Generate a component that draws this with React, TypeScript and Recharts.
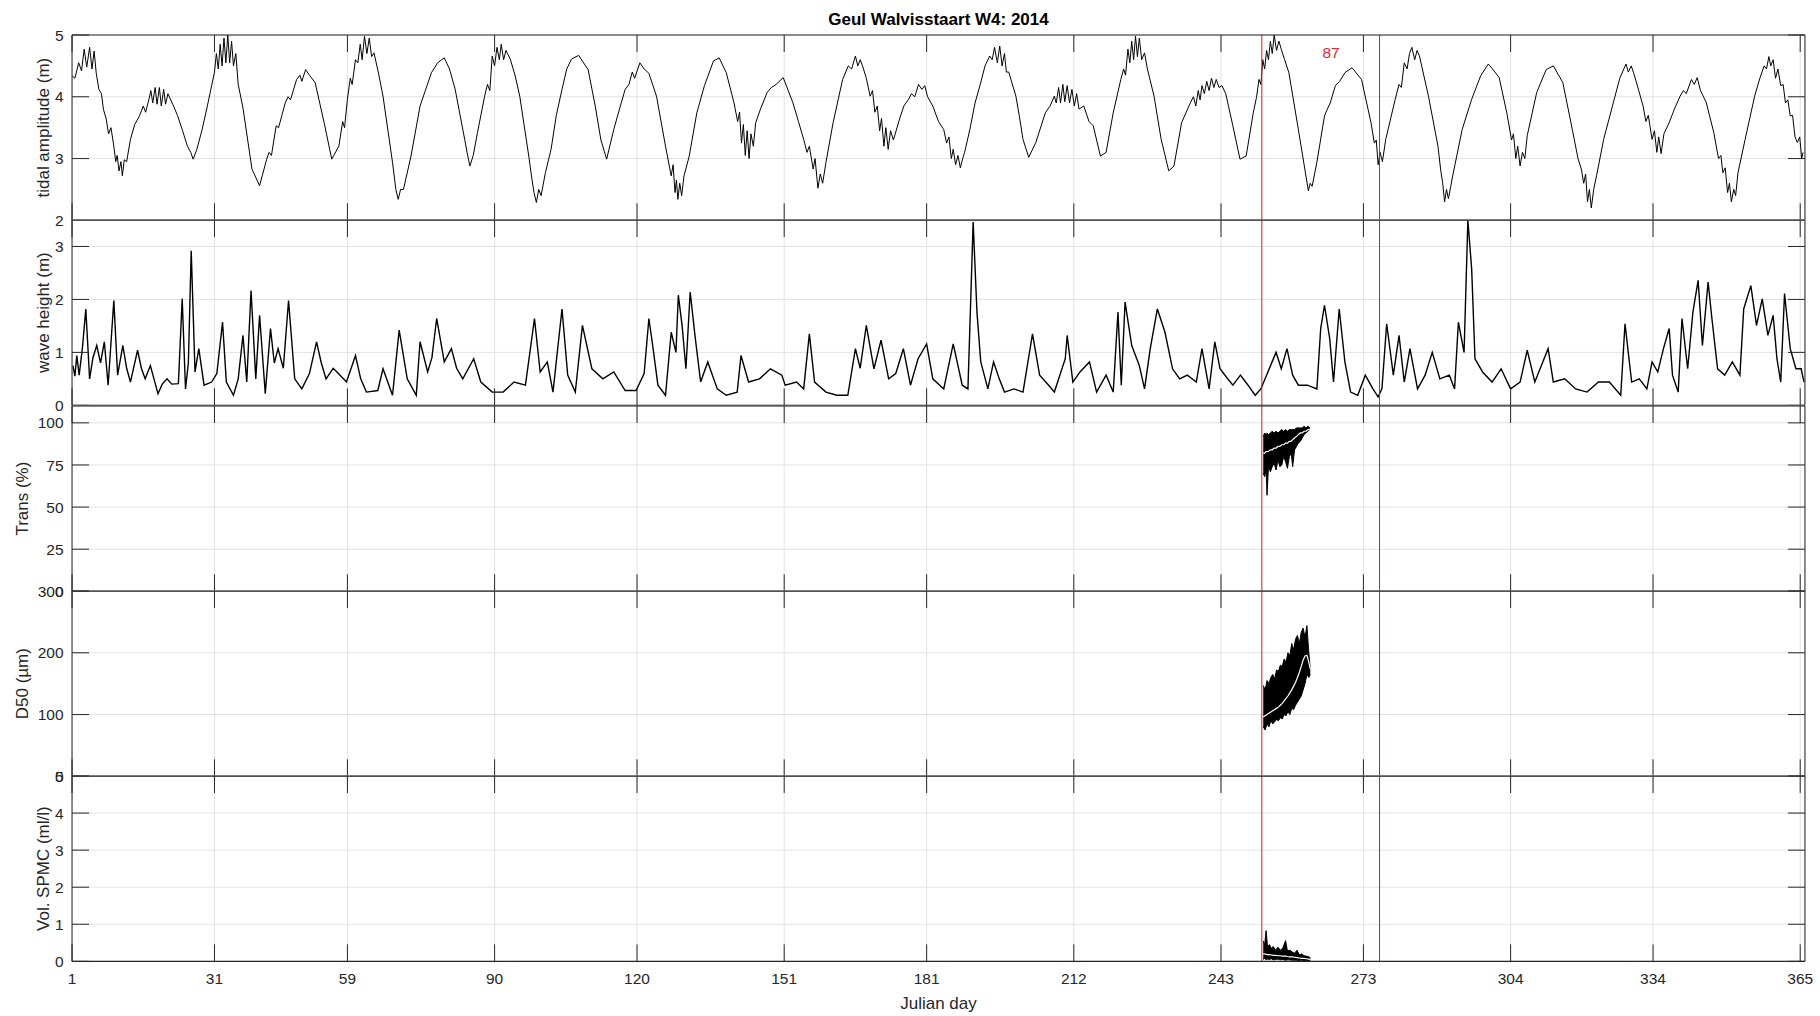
import {
  Area,
  CartesianGrid,
  ComposedChart,
  Line,
  ReferenceDot,
  ReferenceLine,
  XAxis,
  YAxis,
} from "recharts";

// Julian day ticks (month starts)
const dayTicks = [1, 31, 59, 90, 120, 151, 181, 212, 243, 273, 304, 334, 365];

// event window (red lines) and its label
const eventStart = 251.6;
const eventEnd = 276.4;
const eventLabel = "87";

// tidal amplitude (m), [day, value]
const tide: [number, number][] = [
  [1, 4.34], [1.6, 4.3], [2.4, 4.55], [3, 4.42], [3.55, 4.77], [4.1, 4.48], [4.7, 4.8], [5.2, 4.45],
  [5.65, 4.74], [6.1, 4.38], [6.65, 4.12], [7.2, 4.05], [7.6, 3.8], [8.2, 3.64], [8.7, 3.4], [9.2, 3.5],
  [9.8, 3.2], [10.2, 2.95], [10.5, 3.05], [10.9, 2.8], [11.3, 2.95], [11.6, 2.72], [12, 2.98], [12.5, 2.95],
  [13.3, 3.31], [14.2, 3.55], [15.2, 3.69], [16, 3.85], [16.5, 3.75], [17.2, 3.96], [17.6, 4.1], [18, 3.9],
  [18.5, 4.15], [18.9, 3.88], [19.4, 4.15], [19.8, 3.85], [20.3, 4.12], [20.7, 3.88], [21.2, 4.05],
  [22.2, 3.88], [23.2, 3.7], [24.2, 3.47], [25.3, 3.2], [26, 3.1], [26.5, 2.99], [27.3, 3.15], [28.4, 3.47],
  [29.5, 3.85], [30.4, 4.18], [31, 4.4], [31.4, 4.7], [31.8, 4.45], [32.2, 4.85], [32.6, 4.5], [33, 4.95],
  [33.4, 4.55], [33.8, 5.0], [34.2, 4.55], [34.6, 4.9], [35, 4.5], [35.5, 4.7], [36, 4.2], [37, 3.82],
  [38.9, 2.83], [40.5, 2.56], [42, 2.99], [42.5, 3.1], [43, 3.05], [44, 3.53], [44.5, 3.5], [45.9, 3.9],
  [46.5, 4.0], [47, 3.95], [48.3, 4.28], [49, 4.35], [49.4, 4.25], [50.2, 4.44], [51, 4.35], [52.2, 4.23],
  [54.1, 3.58], [55.7, 2.99], [57.2, 3.2], [58, 3.6], [58.4, 3.5], [59, 3.96], [59.6, 4.3], [60, 4.2],
  [60.7, 4.6], [61.2, 4.55], [61.7, 4.85], [62.1, 4.6], [62.6, 4.98], [63.1, 4.7], [63.6, 4.95], [64.1, 4.65],
  [64.6, 4.71], [65.5, 4.4], [66.5, 4.01], [68.5, 2.94], [69.2, 2.5], [69.7, 2.34], [70.2, 2.5], [70.8, 2.5],
  [72.4, 3.04], [74.3, 3.85], [76.7, 4.39], [78, 4.55], [79.4, 4.63], [80.5, 4.45], [81.7, 4.12], [83.7, 3.31],
  [84.2, 3.1], [84.8, 2.88], [85.5, 3.05], [86.4, 3.42], [87.9, 4.01], [88.5, 4.2], [89, 4.1], [89.5, 4.66],
  [90, 4.5], [90.5, 4.8], [91, 4.6], [91.4, 4.85], [91.9, 4.6], [92.4, 4.75], [93.3, 4.61], [94.3, 4.35],
  [95.3, 4.01], [96.2, 3.55], [97.2, 3.04], [97.8, 2.7], [98.3, 2.45], [98.8, 2.29], [99.3, 2.5], [99.8, 2.4],
  [100.7, 2.77], [101.9, 3.15], [103, 3.7], [104.2, 4.12], [105.2, 4.45], [106.2, 4.61], [107.7, 4.67],
  [109.7, 4.44], [111.2, 3.85], [112.4, 3.3], [113.6, 2.99], [115.1, 3.47], [116.3, 3.8], [117.5, 4.12],
  [118.3, 4.2], [119, 4.4], [119.5, 4.3], [120.6, 4.55], [121.5, 4.45], [122.5, 4.38], [124.1, 4.01],
  [126, 3.2], [127.2, 2.72], [127.6, 2.9], [128, 2.45], [128.3, 2.65], [128.6, 2.34], [129, 2.6], [129.4, 2.4],
  [129.9, 2.72], [131, 3.04], [132.6, 3.74], [134.2, 4.18], [136.1, 4.58], [137.3, 4.63], [138.8, 4.39],
  [140.4, 3.91], [141.2, 3.6], [141.6, 3.75], [142, 3.25], [142.4, 3.55], [142.8, 3.05], [143.2, 3.45],
  [143.6, 3.0], [144, 3.4], [144.5, 3.2], [145, 3.58], [146, 3.8], [147.4, 4.07], [148.3, 4.15], [149.3, 4.2],
  [150.8, 4.31], [152.8, 3.91], [154, 3.6], [155.1, 3.31], [155.8, 3.1], [156.3, 3.2], [157.1, 2.83],
  [157.5, 3.0], [158.1, 2.52], [158.6, 2.75], [159.1, 2.6], [159.8, 2.94], [161.3, 3.58], [163.3, 4.28],
  [164.5, 4.5], [165.2, 4.45], [166, 4.66], [166.5, 4.5], [167, 4.6], [167.5, 4.5], [168.3, 4.3], [169.1, 4.01],
  [169.6, 4.1], [170.1, 3.75], [170.6, 3.85], [171.1, 3.45], [171.5, 3.65], [172, 3.2], [172.4, 3.5],
  [172.9, 3.15], [173.4, 3.45], [174, 3.3], [175.3, 3.64], [176.2, 3.85], [177.2, 3.96], [177.8, 4.05],
  [178.5, 4.0], [179.3, 4.2], [180, 4.12], [180.6, 4.18], [181.2, 4.0], [182.3, 3.85], [183.5, 3.6],
  [184.6, 3.47], [185.2, 3.25], [185.7, 3.35], [186.2, 3.0], [186.6, 3.15], [187.1, 2.9], [187.6, 3.05],
  [188.1, 2.85], [188.6, 3.0], [189, 3.1], [190.1, 3.47], [191.2, 3.9], [192.4, 4.23], [193.3, 4.5],
  [194.3, 4.66], [194.8, 4.6], [195.3, 4.8], [195.9, 4.55], [196.4, 4.82], [196.9, 4.5], [197.4, 4.7],
  [197.8, 4.4], [198.3, 4.4], [199.8, 4.01], [200.5, 3.7], [201.3, 3.31], [202.5, 3.02], [204, 3.26],
  [206, 3.74], [207, 3.85], [207.9, 4.01], [208.3, 3.9], [208.8, 4.15], [209.2, 3.9], [209.7, 4.2],
  [210.1, 3.92], [210.6, 4.18], [211.1, 3.9], [211.6, 4.12], [212.1, 3.85], [212.6, 4.05], [213.1, 3.8],
  [214.1, 3.85], [215.2, 3.6], [216.1, 3.53], [217.6, 3.04], [218.8, 3.1], [220.3, 3.74], [221.9, 4.28],
  [222.5, 4.45], [222.9, 4.35], [223.4, 4.77], [223.8, 4.55], [224.2, 4.9], [224.6, 4.6], [225, 4.98],
  [225.4, 4.65], [225.8, 4.95], [226.3, 4.6], [226.9, 4.71], [227.5, 4.45], [228.9, 4.01], [230.4, 3.31],
  [232, 2.8], [233.1, 2.88], [234.7, 3.58], [236.6, 3.91], [237.2, 4.0], [237.7, 3.85], [238.2, 4.1],
  [238.6, 3.95], [239, 4.18], [239.5, 4.05], [240, 4.25], [240.5, 4.1], [241, 4.3], [241.5, 4.15],
  [242, 4.28], [242.6, 4.15], [243.2, 4.18], [244, 4.05], [245.5, 3.53], [247, 2.99], [248.3, 3.04],
  [249.8, 3.74], [250.5, 4.0], [251, 4.28], [251.4, 4.2], [251.8, 4.6], [252.2, 4.45], [252.6, 4.75],
  [253, 4.6], [253.4, 4.9], [253.8, 4.7], [254.2, 5.0], [254.7, 4.75], [255.2, 4.9], [255.7, 4.77],
  [256.4, 4.6], [257.3, 4.39], [259.3, 3.47], [261.4, 2.48], [261.8, 2.6], [262.2, 2.55], [263.2, 2.94],
  [264.8, 3.69], [265.4, 3.8], [266, 3.9], [267.1, 4.18], [268, 4.25], [269.1, 4.39], [270.6, 4.47],
  [272.6, 4.28], [274.6, 3.58], [275.3, 3.25], [275.7, 3.3], [276.1, 2.9], [276.5, 3.1], [277, 2.95],
  [277.7, 3.31], [279.7, 3.96], [280.5, 4.2], [281, 4.15], [281.6, 4.55], [282.2, 4.45], [282.7, 4.7],
  [283.2, 4.8], [283.8, 4.6], [284.3, 4.75], [284.8, 4.66], [286.7, 4.01], [288.7, 3.2], [289.3, 2.8],
  [289.7, 2.6], [290.1, 2.3], [290.5, 2.5], [290.9, 2.35], [291.4, 2.55], [291.8, 2.72], [293.8, 3.47],
  [295.8, 3.96], [297.7, 4.34], [299.3, 4.53], [300.2, 4.45], [301.6, 4.31], [303.2, 3.74], [304.2, 3.3],
  [304.6, 3.4], [305.1, 3.0], [305.5, 3.2], [306, 2.88], [306.5, 3.1], [307, 3.0], [307.5, 3.37],
  [309.5, 4.07], [311.5, 4.44], [313, 4.5], [315, 4.23], [317, 3.47], [318.2, 3.0], [318.9, 2.83],
  [319.4, 2.6], [319.8, 2.75], [320.2, 2.3], [320.6, 2.5], [321, 2.2], [321.5, 2.5], [322.1, 2.72],
  [323.6, 3.31], [326, 4.01], [327, 4.3], [328.3, 4.53], [328.8, 4.4], [329.4, 4.5], [329.9, 4.39],
  [331, 4.1], [331.9, 3.85], [332.5, 3.6], [333, 3.7], [333.8, 3.31], [334.3, 3.45], [334.8, 3.1],
  [335.2, 3.35], [335.7, 3.08], [336.3, 3.4], [337.4, 3.58], [338.5, 3.8], [339.7, 4.01], [340.4, 4.1],
  [341, 4.05], [342.1, 4.28], [342.7, 4.2], [343.3, 4.31], [344, 4.1], [345.2, 3.91], [346.8, 3.42],
  [347.8, 3.0], [348.3, 3.05], [348.7, 2.77], [349.2, 2.85], [349.7, 2.45], [350.1, 2.6], [350.5, 2.3],
  [351, 2.5], [351.4, 2.4], [351.9, 2.77], [353.4, 3.31], [355.4, 4.01], [356.5, 4.3], [357.4, 4.5],
  [357.9, 4.45], [358.4, 4.65], [358.8, 4.5], [359.3, 4.6], [359.8, 4.3], [360.3, 4.45], [360.9, 4.18],
  [361.4, 4.2], [361.9, 3.9], [362.4, 3.95], [362.9, 3.69], [363.4, 3.7], [363.9, 3.35], [364.4, 3.26],
  [364.9, 3.35], [365.3, 3.0], [365.6, 3.1],
];

// wave height (m), [day, value]
const wave: [number, number][] = [
  [1.2, 0.75], [1.6, 0.55], [2, 0.94], [2.5, 0.57], [3.2, 1.1], [3.9, 1.82], [4.7, 0.5], [5.4, 0.9],
  [6.2, 1.13], [7, 0.8], [7.8, 1.2], [8.6, 0.38], [9.8, 1.98], [10.6, 0.57], [11.7, 1.13], [12.5, 0.7],
  [13.3, 0.44], [14.8, 1.04], [15.6, 0.7], [16.4, 0.5], [17.5, 0.75], [19.1, 0.22], [20, 0.4], [21, 0.5],
  [22, 0.4], [23.4, 0.41], [24.2, 2.01], [24.9, 0.31], [25.5, 0.8], [26.1, 2.92], [26.9, 0.63],
  [27.7, 1.07], [28.8, 0.38], [30.4, 0.44], [31.5, 0.6], [32.7, 1.57], [33.5, 0.44], [35, 0.19],
  [36, 0.5], [37, 1.32], [37.8, 0.44], [38.7, 2.17], [39.7, 0.5], [40.5, 1.7], [41.7, 0.22], [42.8, 1.45],
  [43.6, 0.8], [44.4, 1.07], [45.5, 0.7], [46.6, 1.98], [47.9, 0.5], [49.4, 0.31], [51, 0.6], [52.5, 1.2],
  [53.5, 0.8], [54.5, 0.5], [56, 0.7], [56.8, 0.63], [58.8, 0.44], [60.7, 0.94], [61.8, 0.5], [63, 0.25],
  [65.4, 0.28], [66.5, 0.69], [68.5, 0.19], [69.9, 1.42], [71.6, 0.5], [73.5, 0.19], [74.3, 1.2],
  [75.9, 0.63], [76.8, 0.9], [77.8, 1.64], [79.4, 0.82], [80.9, 1.07], [82, 0.7], [83.3, 0.5], [85.6, 0.88],
  [87.1, 0.44], [89.5, 0.25], [91.8, 0.25], [94.1, 0.44], [96.5, 0.38], [98.4, 1.64], [99.6, 0.63],
  [101.1, 0.82], [102.3, 0.25], [104.2, 1.82], [105.4, 0.57], [107, 0.25], [108.5, 1.51], [110.5, 0.69],
  [112.8, 0.5], [115.1, 0.63], [117.5, 0.28], [119.8, 0.28], [121.5, 0.6], [122.5, 1.64], [123.3, 1.13],
  [124.4, 0.38], [126, 0.19], [127.2, 1.38], [128.2, 1.0], [128.7, 2.08], [129.5, 1.5], [130.3, 0.69],
  [131.2, 2.14], [132.2, 1.32], [133.4, 0.44], [134.9, 0.82], [136.9, 0.31], [138.8, 0.19], [141.1, 0.25],
  [141.9, 0.94], [143.5, 0.44], [145.8, 0.5], [148.1, 0.69], [150.5, 0.57], [151.2, 0.38], [153.6, 0.44],
  [155.1, 0.31], [156.3, 1.35], [157.4, 0.44], [159.8, 0.25], [162.1, 0.19], [164.4, 0.19], [166, 1.07],
  [167, 0.7], [168.3, 1.51], [169.9, 0.69], [171.4, 1.23], [173, 0.5], [174.5, 0.6], [176.1, 1.07],
  [177.6, 0.38], [179.2, 0.88], [181, 1.16], [182.3, 0.5], [184.6, 0.31], [186.6, 1.16], [188.5, 0.38],
  [189.7, 0.31], [190.8, 3.46], [191.6, 1.76], [192.4, 0.82], [193.9, 0.31], [195.1, 0.82], [196.3, 0.5],
  [197.4, 0.25], [199.4, 0.31], [201.3, 0.25], [203.3, 1.35], [204.8, 0.57], [206.7, 0.38], [207.9, 0.25],
  [210.2, 0.88], [210.6, 1.32], [211.8, 0.44], [213.3, 0.63], [215.3, 0.82], [216.8, 0.25], [218.8, 0.57],
  [220.3, 0.25], [221.3, 1.76], [222, 0.38], [222.8, 1.95], [224.2, 1.13], [225.8, 0.75], [226.9, 0.31],
  [228.1, 1.07], [229.6, 1.82], [231.2, 1.38], [232.8, 0.69], [234.3, 0.5], [235.9, 0.57], [237.8, 0.44],
  [239, 1.07], [240.5, 0.31], [241.7, 1.2], [242.8, 0.69], [244, 0.55], [245.5, 0.38], [247.1, 0.57],
  [248.7, 0.38], [250.2, 0.19], [251.4, 0.31], [252.6, 0.57], [254.6, 1.0], [255.7, 0.69], [256.9, 1.07],
  [258.1, 0.57], [259.3, 0.38], [261.2, 0.38], [263.2, 0.31], [264, 1.45], [264.8, 1.89], [265.9, 1.26],
  [266.7, 0.44], [267.9, 1.82], [269.1, 0.82], [270.3, 0.25], [271.8, 0.19], [273.4, 0.57], [275, 0.31],
  [276.1, 0.16], [276.9, 0.31], [277.9, 1.54], [279.3, 0.57], [280.5, 1.32], [281.6, 0.44], [282.8, 1.07],
  [284.4, 0.31], [286, 0.57], [287.5, 1.0], [289.1, 0.5], [291.1, 0.57], [292.2, 0.31], [293, 1.57],
  [294.2, 1.0], [295, 3.49], [295.8, 2.58], [296.5, 0.88], [298.1, 0.63], [300.1, 0.44], [302, 0.69],
  [304, 0.31], [306, 0.44], [307.5, 1.04], [309.1, 0.44], [311.9, 1.07], [313, 0.44], [315.4, 0.5],
  [317.7, 0.31], [320.1, 0.25], [322.5, 0.44], [324.8, 0.44], [327.2, 0.19], [328.1, 1.54], [329.5, 0.44],
  [331.1, 0.5], [332.7, 0.31], [333.8, 0.82], [335, 0.63], [336.2, 1.07], [337.4, 1.45], [338.1, 0.57],
  [339.3, 0.25], [340.1, 1.64], [341.3, 0.69], [342.4, 1.76], [343.5, 2.36], [344.4, 1.13], [345.6, 2.33],
  [346.4, 1.64], [347.6, 0.69], [349.1, 0.57], [350.7, 0.82], [352.3, 0.57], [353.1, 1.82], [354.6, 2.26],
  [355.8, 1.51], [357, 2.01], [358.2, 1.32], [359.3, 1.7], [360.1, 0.88], [360.9, 0.44], [361.7, 2.11],
  [362.9, 1.07], [364.1, 0.69], [365.2, 0.69], [365.8, 0.44],
];

// transmission (%) during deployment: spread and smoothed mean
const transDay = [251.9, 252.2, 252.5, 252.7, 253.0, 253.4, 253.8, 254.2, 254.6, 255.0, 255.4, 255.8, 256.2, 256.6, 257.0, 257.4, 257.8, 258.1, 258.5, 258.9, 259.3, 259.7, 260.1, 260.5, 260.9, 261.3, 261.7];
const transHi = [92, 94, 93, 94, 93, 94, 95, 94, 95, 94, 95, 96, 95, 96, 95, 96, 96, 96, 96, 97, 97, 97, 97, 98, 97, 98, 97];
const transLo = [70, 68, 72, 57, 74, 71, 74, 76, 72, 78, 74, 75, 80, 77, 73, 80, 82, 74, 84, 86, 88, 89, 91, 93, 94, 95, 96];
const transMean = [82, 82, 83, 83, 83, 84, 84, 85, 85, 86, 86, 87, 87, 88, 88, 89, 89, 90, 91, 92, 93, 94, 94, 95, 95, 96, 96];

// D50 (um)
const d50Day = [251.9, 252.3, 252.7, 253.1, 253.5, 253.9, 254.3, 254.7, 255.1, 255.5, 255.9, 256.3, 256.7, 257.1, 257.5, 257.9, 258.3, 258.7, 259.1, 259.5, 259.9, 260.3, 260.7, 261.1, 261.5, 261.8];
const d50Hi = [147, 140, 155, 150, 160, 165, 158, 172, 170, 180, 178, 190, 185, 200, 195, 215, 205, 222, 228, 215, 233, 240, 225, 244, 200, 175];
const d50Lo = [80, 75, 85, 80, 90, 85, 88, 92, 90, 95, 93, 100, 98, 105, 100, 110, 108, 115, 120, 125, 130, 140, 150, 165, 160, 165];
const d50Mean = [96, 98, 100, 102, 104, 106, 108, 110, 112, 115, 118, 122, 126, 130, 135, 140, 146, 152, 160, 168, 178, 188, 195, 196, 185, 174];

// volume SPMC (ml/l)
const spmcDay = [251.9, 252.2, 252.5, 252.8, 253.2, 253.6, 254.0, 254.5, 255.0, 255.5, 256.0, 256.6, 257.0, 257.5, 258.0, 258.5, 259.0, 259.5, 260.0, 260.5, 261.0, 261.5, 261.8];
const spmcHi = [0.55, 0.45, 0.83, 0.4, 0.45, 0.35, 0.4, 0.3, 0.38, 0.3, 0.35, 0.56, 0.28, 0.3, 0.25, 0.22, 0.3, 0.18, 0.2, 0.15, 0.14, 0.12, 0.1];
const spmcLo = [0.05, 0.08, 0.04, 0.06, 0.05, 0.07, 0.04, 0.05, 0.06, 0.04, 0.05, 0.03, 0.04, 0.04, 0.03, 0.03, 0.03, 0.02, 0.03, 0.02, 0.02, 0.02, 0.02];
const spmcMean = [0.2, 0.2, 0.19, 0.18, 0.18, 0.17, 0.16, 0.16, 0.15, 0.15, 0.14, 0.14, 0.13, 0.12, 0.12, 0.11, 0.1, 0.09, 0.08, 0.08, 0.07, 0.06, 0.05];

const AX = "#262626";
const GRID = "#e2e2e2";
const RED_LINE = "#c42020";
const FONT = "'Liberation Sans', Arial, Helvetica, sans-serif";

const W = 1820;
const PANEL_TOP = 35;
const PANEL_H = 185.34;
const TICK_LEN = 17;

const pairs = (p: [number, number][]) => p.map(([d, v]) => ({ d, v }));
const band = (days: number[], lo: number[], hi: number[], mean: number[]) =>
  days.map((d, i) => ({ d, band: [lo[i], hi[i]], v: mean[i] }));

function XTick(props: any) {
  const { x, y, payload, side, labels } = props;
  const dir = side === "top" ? 1 : -1;
  return (
    <g>
      <line x1={x} x2={x} y1={y} y2={y + dir * TICK_LEN} stroke={AX} strokeWidth={1} />
      {labels && (
        <text x={x} y={y + 23} textAnchor="middle" fill={AX} fontSize={15.5}>
          {payload.value}
        </text>
      )}
    </g>
  );
}

function YTick(props: any) {
  const { x, y, payload, side } = props;
  const dir = side === "left" ? 1 : -1;
  return (
    <g>
      <line x1={x} x2={x + dir * TICK_LEN} y1={y} y2={y} stroke={AX} strokeWidth={1} />
      {side === "left" && (
        <text x={x - 8.5} y={y} dy="0.36em" textAnchor="end" fill={AX} fontSize={15.5}>
          {payload.value}
        </text>
      )}
    </g>
  );
}

function YTitle(props: any) {
  const { value, cx, cy } = props;
  return (
    <text
      x={cx}
      y={cy}
      transform={`rotate(-90 ${cx} ${cy})`}
      textAnchor="middle"
      dy="0.35em"
      fill={AX}
      fontSize={17}
    >
      {value}
    </text>
  );
}

interface PanelProps {
  idx: number;
  yDomain: [number, number];
  yTicks: number[];
  yLabel: string;
  labelX: number;
  last?: boolean;
  children: React.ReactNode;
}

function Panel({ idx, yDomain, yTicks, yLabel, labelX, last, children }: PanelProps) {
  const mTop = 19;
  const mBottom = last ? 49 : 19;
  const top = PANEL_TOP + idx * PANEL_H - mTop - 1;
  return (
    <div style={{ position: "absolute", left: 0, top }}>
      <ComposedChart
        width={W}
        height={PANEL_H + mTop + mBottom + 2}
        margin={{ top: mTop, right: 0, bottom: mBottom, left: 0 }}
      >
        <CartesianGrid stroke={GRID} strokeWidth={1} />
        <XAxis
          dataKey="d"
          type="number"
          domain={[1, 366]}
          ticks={dayTicks}
          interval={0}
          height={1}
          tickSize={0}
          tickMargin={0}
          tickLine={false}
          axisLine={{ stroke: AX, strokeWidth: 1.2 }}
          tick={(p: any) => <XTick {...p} side="bottom" labels={last} />}
          allowDataOverflow
        />
        <XAxis
          xAxisId="top"
          orientation="top"
          dataKey="d"
          type="number"
          domain={[1, 366]}
          ticks={dayTicks}
          interval={0}
          height={1}
          tickSize={0}
          tickMargin={0}
          tickLine={false}
          axisLine={{ stroke: AX, strokeWidth: 1.2 }}
          tick={(p: any) => <XTick {...p} side="top" labels={false} />}
          allowDataOverflow
        />
        <YAxis
          type="number"
          domain={yDomain}
          ticks={yTicks}
          interval={0}
          width={72}
          tickSize={0}
          tickMargin={0}
          tickLine={false}
          axisLine={{ stroke: AX, strokeWidth: 1 }}
          tick={(p: any) => <YTick {...p} side="left" />}
          label={<YTitle value={yLabel} cx={labelX} cy={mTop + 1 + PANEL_H / 2} />}
          allowDataOverflow
        />
        <YAxis
          yAxisId="r"
          orientation="right"
          type="number"
          domain={yDomain}
          ticks={yTicks}
          interval={0}
          width={15}
          tickSize={0}
          tickMargin={0}
          tickLine={false}
          axisLine={{ stroke: AX, strokeWidth: 1 }}
          tick={(p: any) => <YTick {...p} side="right" />}
          allowDataOverflow
        />
        {children}
        <ReferenceLine x={eventStart} stroke={RED_LINE} strokeWidth={1} />
        <ReferenceLine x={eventEnd} stroke={RED_LINE} strokeWidth={1} />
      </ComposedChart>
    </div>
  );
}

export default function App() {
  const tideData = pairs(tide);
  const waveData = pairs(wave);
  const transData = band(transDay, transLo, transHi, transMean);
  const d50Data = band(d50Day, d50Lo, d50Hi, d50Mean);
  const spmcData = band(spmcDay, spmcLo, spmcHi, spmcMean);

  return (
    <div
      style={{
        position: "absolute",
        left: 0,
        top: 0,
        width: W,
        height: 1016,
        background: "#fff",
        fontFamily: FONT,
        color: AX,
      }}
    >
      <div
        style={{
          position: "absolute",
          left: 72,
          width: 1733,
          top: 10,
          lineHeight: "20px",
          textAlign: "center",
          fontWeight: "bold",
          fontSize: 17,
          color: "#000",
        }}
      >
        Geul Walvisstaart W4: 2014
      </div>

      <Panel idx={0} yDomain={[2, 5]} yTicks={[2, 3, 4, 5]} yLabel="tidal amplitude (m)" labelX={43}>
        <Line data={tideData} dataKey="v" stroke="#000" strokeWidth={1} dot={false} isAnimationActive={false} />
        <ReferenceDot
          x={266.2}
          y={4.71}
          r={0}
          fill="none"
          stroke="none"
          label={{ value: eventLabel, position: "center", fill: "#e3242b", fontSize: 15.5 }}
        />
      </Panel>

      <Panel idx={1} yDomain={[0, 3.5]} yTicks={[0, 1, 2, 3]} yLabel="wave height (m)" labelX={43}>
        <Line data={waveData} dataKey="v" stroke="#000" strokeWidth={1.4} dot={false} isAnimationActive={false} />
      </Panel>

      <Panel idx={2} yDomain={[0, 110]} yTicks={[0, 25, 50, 75, 100]} yLabel="Trans (%)" labelX={22}>
        <Area data={transData} dataKey="band" stroke="#000" strokeWidth={1} fill="#000" fillOpacity={1} isAnimationActive={false} />
        <Line data={transData} dataKey="v" stroke="#fff" strokeWidth={1.2} dot={false} isAnimationActive={false} />
      </Panel>

      <Panel idx={3} yDomain={[0, 300]} yTicks={[0, 100, 200, 300]} yLabel="D50 (µm)" labelX={22}>
        <Area data={d50Data} dataKey="band" stroke="#000" strokeWidth={1} fill="#000" fillOpacity={1} isAnimationActive={false} />
        <Line data={d50Data} dataKey="v" stroke="#fff" strokeWidth={1.2} dot={false} isAnimationActive={false} />
      </Panel>

      <Panel idx={4} yDomain={[0, 5]} yTicks={[0, 1, 2, 3, 4, 5]} yLabel="Vol. SPMC (ml/l)" labelX={43} last>
        <Area data={spmcData} dataKey="band" stroke="#000" strokeWidth={1} fill="#000" fillOpacity={1} isAnimationActive={false} />
        <Line data={spmcData} dataKey="v" stroke="#fff" strokeWidth={1.2} dot={false} isAnimationActive={false} />
      </Panel>

      <div
        style={{
          position: "absolute",
          left: 72,
          width: 1733,
          top: 994,
          lineHeight: "20px",
          textAlign: "center",
          fontSize: 17,
        }}
      >
        Julian day
      </div>
    </div>
  );
}
